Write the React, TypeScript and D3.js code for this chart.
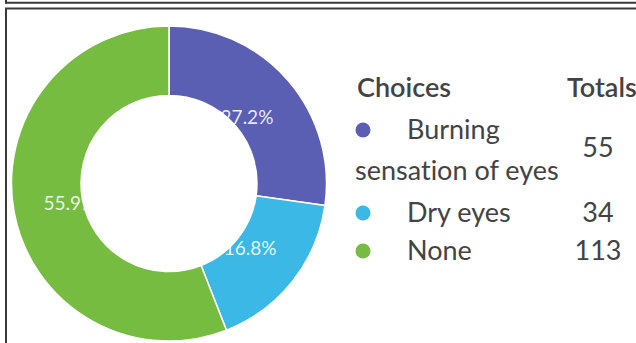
import React from "react";
import * as d3 from "d3";

const categories = ["Burning sensation of eyes", "Dry eyes", "None"];
const totals = [55, 34, 113];
const percentLabels = ["27.2%", "16.8%", "55.9%"];
const colors = ["#5b5fb4", "#3cb8e6", "#75bc40"];

const W = 636;
const H = 343;
const cx = 169;
const cy = 183.5;
const outerR = 157.5;
const innerR = 88;

export default function App() {
  const pie = d3.pie<number>().sort(null).value((d) => d)(totals);
  const arc = d3.arc<d3.PieArcDatum<number>>().innerRadius(innerR).outerRadius(outerR);
  const labelArc = d3.arc<d3.PieArcDatum<number>>().innerRadius(102).outerRadius(102);
  const textColor = "#434343";
  const font = "Lato, 'Open Sans', sans-serif";

  const rowY = [139, 222, 260];
  const numY = [157, 222, 260];
  const fs = 27;

  return (
    <div style={{ position: "absolute", left: 0, top: 0 }}>
      <svg width={W} height={H} style={{ display: "block", background: "#fff", fontVariantLigatures: "none" }}>
        {/* frame lines */}
        <line x1={6} y1={0} x2={6} y2={3.5} stroke="#3a3a3a" strokeWidth={2} />
        <line x1={5} y1={2.8} x2={W} y2={2.8} stroke="#3a3a3a" strokeWidth={2} />
        <line x1={5} y1={8.5} x2={W} y2={8.5} stroke="#3a3a3a" strokeWidth={2} />
        <line x1={6} y1={8} x2={6} y2={H} stroke="#3a3a3a" strokeWidth={2} />

        <g transform={`translate(${cx},${cy})`}>
          {pie.map((p, i) => (
            <path key={i} d={arc(p) || ""} fill={colors[i]} stroke="#fff" strokeWidth={1.5} />
          ))}
          {pie.map((p, i) => {
            const [x, y] = labelArc.centroid(p);
            return (
              <text
                key={i}
                x={x + 1}
                y={y + 3}
                textAnchor="middle"
                dominantBaseline="middle"
                fontFamily={font}
                fontSize={19}
                fill="#ffffff"
                fillOpacity={0.88}
              >
                {percentLabels[i]}
              </text>
            );
          })}
        </g>

        {/* legend */}
        <g fontFamily={font} fill={textColor}>
          <text x={357} y={97} fontSize={fs} fontWeight={600}>Choices</text>
          <text x={567} y={97} fontSize={fs} fontWeight={600}>Totals</text>

          <circle cx={363} cy={rowY[0] - 9} r={7.5} fill={colors[0]} />
          <text x={407} y={rowY[0]} fontSize={fs}>Burning</text>
          <text x={355} y={180} fontSize={fs}>sensation of eyes</text>
          <text x={598} y={numY[0]} fontSize={fs} textAnchor="middle">{totals[0]}</text>

          <circle cx={363} cy={rowY[1] - 9} r={7.5} fill={colors[1]} />
          <text x={407} y={rowY[1]} fontSize={fs}>{categories[1]}</text>
          <text x={598} y={numY[1]} fontSize={fs} textAnchor="middle">{totals[1]}</text>

          <circle cx={363} cy={rowY[2] - 9} r={7.5} fill={colors[2]} />
          <text x={407} y={rowY[2]} fontSize={fs}>{categories[2]}</text>
          <text x={598} y={numY[2]} fontSize={fs} textAnchor="middle">{totals[2]}</text>
        </g>
      </svg>
    </div>
  );
}
